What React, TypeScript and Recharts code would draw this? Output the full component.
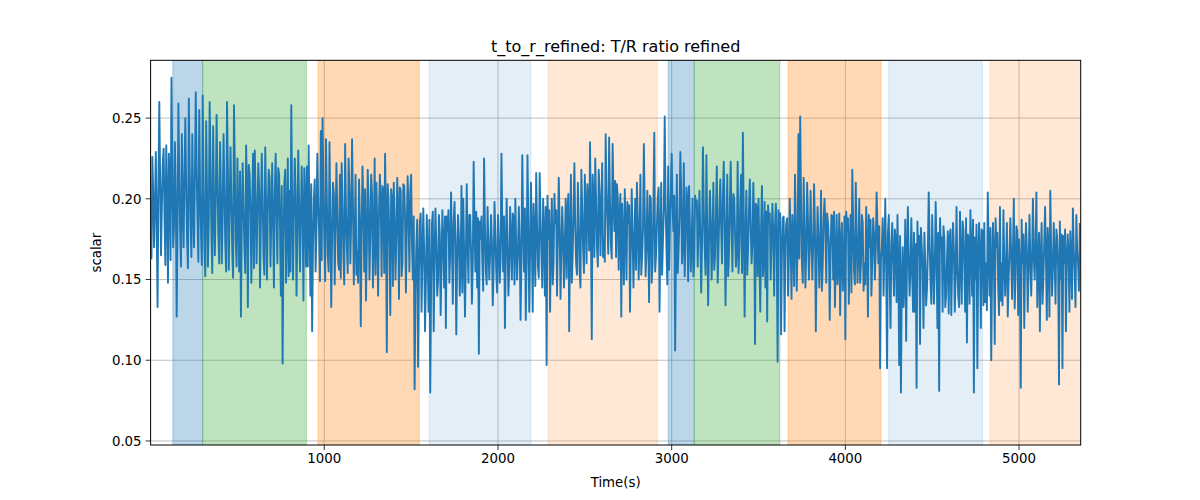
import React from "react";
import { LineChart, Line, XAxis, YAxis, CartesianGrid, ReferenceArea } from "recharts";

const STEP = 5; // seconds between samples

const ratioA = [
  0.176, 0.163, 0.226, 0.204, 0.17, 0.193, 0.229, 0.186, 0.133, 0.207, 0.26, 0.212, 0.165, 0.196, 0.222, 0.231, 0.19, 0.159, 0.233, 0.199,
  0.148, 0.228, 0.21, 0.162, 0.275, 0.224, 0.17, 0.184, 0.235, 0.203, 0.127, 0.181, 0.259, 0.213, 0.18, 0.158, 0.24, 0.198, 0.17, 0.216,
  0.25, 0.207, 0.175, 0.157, 0.262, 0.218, 0.185, 0.164, 0.24, 0.196, 0.17, 0.214, 0.266, 0.22, 0.188, 0.161, 0.255, 0.204, 0.18, 0.159,
  0.264, 0.208, 0.17, 0.152, 0.248, 0.204, 0.158, 0.187, 0.26, 0.223, 0.18, 0.154, 0.245, 0.197, 0.165, 0.199, 0.252, 0.213, 0.178, 0.16,
  0.235, 0.203, 0.16, 0.192, 0.24, 0.206, 0.172, 0.155, 0.26, 0.218, 0.156, 0.193, 0.232, 0.201, 0.168, 0.151, 0.258, 0.219, 0.175, 0.158,
  0.225, 0.187, 0.155, 0.217, 0.127, 0.183, 0.222, 0.196, 0.17, 0.154, 0.233, 0.205, 0.133, 0.221, 0.215, 0.192, 0.148, 0.194, 0.228, 0.157,
  0.23, 0.197, 0.16, 0.193, 0.222, 0.206, 0.145, 0.188, 0.228, 0.201, 0.165, 0.153, 0.232, 0.197, 0.15, 0.194, 0.218, 0.212, 0.158, 0.187,
  0.222, 0.186, 0.145, 0.203, 0.228, 0.191, 0.16, 0.219, 0.215, 0.182, 0.14, 0.208, 0.098, 0.172, 0.21, 0.218, 0.148, 0.183, 0.225, 0.152,
  0.205, 0.155, 0.258, 0.198, 0.15, 0.193, 0.225, 0.204, 0.14, 0.178, 0.23, 0.197, 0.155, 0.188, 0.22, 0.191, 0.137, 0.219, 0.2, 0.158,
];
const ratioB = [
  0.22, 0.158, 0.233, 0.187, 0.14, 0.209, 0.118, 0.172, 0.2, 0.212, 0.155, 0.183, 0.228, 0.197, 0.18, 0.149, 0.242, 0.162, 0.25, 0.204,
  0.175, 0.149, 0.237, 0.198, 0.165, 0.155, 0.235, 0.188, 0.133, 0.177, 0.21, 0.203, 0.147, 0.183, 0.222, 0.192, 0.16, 0.156, 0.215, 0.151,
  0.222, 0.196, 0.165, 0.147, 0.234, 0.192, 0.17, 0.154, 0.225, 0.204, 0.16, 0.188, 0.237, 0.197, 0.147, 0.176, 0.215, 0.153, 0.168, 0.148,
  0.212, 0.187, 0.121, 0.178, 0.22, 0.197, 0.155, 0.206, 0.137, 0.168, 0.218, 0.198, 0.15, 0.177, 0.215, 0.203, 0.145, 0.173, 0.225, 0.153,
  0.21, 0.182, 0.14, 0.193, 0.215, 0.198, 0.152, 0.208, 0.205, 0.154, 0.228, 0.187, 0.105, 0.209, 0.198, 0.172, 0.128, 0.206, 0.2, 0.146,
  0.21, 0.186, 0.15, 0.178, 0.213, 0.193, 0.138, 0.207, 0.205, 0.152, 0.16, 0.209, 0.208, 0.188, 0.142, 0.183, 0.214, 0.191, 0.155, 0.205,
  0.215, 0.172, 0.15, 0.189, 0.082, 0.142, 0.17, 0.187, 0.096, 0.153, 0.185, 0.191, 0.13, 0.163, 0.194, 0.168, 0.118, 0.148, 0.19, 0.167,
  0.13, 0.187, 0.08, 0.147, 0.185, 0.192, 0.118, 0.163, 0.194, 0.172, 0.14, 0.149, 0.19, 0.178, 0.128, 0.162, 0.193, 0.171, 0.145, 0.189,
  0.12, 0.189, 0.18, 0.193, 0.148, 0.167, 0.204, 0.171, 0.135, 0.186, 0.198, 0.174, 0.116, 0.163, 0.19, 0.177, 0.14, 0.158, 0.208, 0.142,
];
const ratioC = [
  0.2, 0.168, 0.127, 0.163, 0.209, 0.172, 0.148, 0.19, 0.19, 0.167, 0.135, 0.161, 0.223, 0.183, 0.155, 0.192, 0.145, 0.188, 0.104, 0.186,
  0.175, 0.189, 0.16, 0.143, 0.225, 0.182, 0.156, 0.147, 0.195, 0.171, 0.15, 0.168, 0.19, 0.173, 0.134, 0.157, 0.198, 0.177, 0.155, 0.142,
  0.19, 0.173, 0.148, 0.162, 0.228, 0.184, 0.155, 0.189, 0.12, 0.168, 0.2, 0.171, 0.14, 0.158, 0.195, 0.174, 0.15, 0.191, 0.188, 0.147,
  0.2, 0.169, 0.15, 0.167, 0.195, 0.173, 0.125, 0.163, 0.227, 0.182, 0.155, 0.194, 0.125, 0.162, 0.227, 0.183, 0.13, 0.168, 0.21, 0.175,
  0.13, 0.197, 0.175, 0.146, 0.216, 0.183, 0.158, 0.151, 0.216, 0.188, 0.165, 0.145, 0.2, 0.178, 0.14, 0.195, 0.097, 0.202, 0.175, 0.193,
  0.13, 0.173, 0.2, 0.147, 0.16, 0.203, 0.185, 0.193, 0.14, 0.177, 0.213, 0.184, 0.138, 0.168, 0.195, 0.175, 0.145, 0.172, 0.2, 0.151,
  0.19, 0.203, 0.118, 0.173, 0.215, 0.148, 0.165, 0.193, 0.222, 0.182, 0.16, 0.153, 0.21, 0.187, 0.155, 0.145, 0.218, 0.194, 0.17, 0.154,
  0.215, 0.193, 0.16, 0.209, 0.2, 0.168, 0.235, 0.186, 0.113, 0.215, 0.2, 0.164, 0.225, 0.198, 0.17, 0.158, 0.218, 0.203, 0.165, 0.193,
  0.222, 0.164, 0.175, 0.161, 0.24, 0.204, 0.185, 0.166, 0.238, 0.197, 0.172, 0.163, 0.234, 0.203, 0.18, 0.211, 0.164, 0.209, 0.2, 0.156,
];
const ratioD = [
  0.19, 0.203, 0.127, 0.197, 0.175, 0.147, 0.206, 0.183, 0.15, 0.198, 0.185, 0.196, 0.13, 0.172, 0.206, 0.177, 0.145, 0.173, 0.2, 0.156,
  0.21, 0.188, 0.15, 0.174, 0.215, 0.153, 0.165, 0.182, 0.234, 0.193, 0.152, 0.168, 0.205, 0.177, 0.136, 0.202, 0.2, 0.148, 0.16, 0.197,
  0.241, 0.155, 0.165, 0.184, 0.2, 0.207, 0.13, 0.172, 0.21, 0.153, 0.175, 0.193, 0.251, 0.198, 0.17, 0.147, 0.22, 0.156, 0.185, 0.204,
  0.228, 0.196, 0.18, 0.202, 0.106, 0.173, 0.215, 0.154, 0.17, 0.188, 0.229, 0.203, 0.16, 0.171, 0.222, 0.152, 0.175, 0.207, 0.2, 0.149,
  0.208, 0.183, 0.155, 0.171, 0.2, 0.152, 0.16, 0.202, 0.195, 0.199, 0.158, 0.184, 0.205, 0.177, 0.142, 0.174, 0.232, 0.193, 0.17, 0.153,
  0.227, 0.178, 0.134, 0.174, 0.205, 0.187, 0.15, 0.172, 0.21, 0.156, 0.165, 0.192, 0.22, 0.148, 0.17, 0.194, 0.212, 0.183, 0.16, 0.201,
  0.223, 0.187, 0.134, 0.173, 0.215, 0.152, 0.165, 0.197, 0.223, 0.182, 0.155, 0.203, 0.2, 0.178, 0.158, 0.168, 0.223, 0.154, 0.17, 0.198,
  0.215, 0.154, 0.241, 0.188, 0.127, 0.178, 0.205, 0.153, 0.17, 0.193, 0.212, 0.182, 0.16, 0.172, 0.21, 0.188, 0.11, 0.197, 0.195, 0.152,
  0.2, 0.168, 0.13, 0.183, 0.208, 0.152, 0.16, 0.198, 0.145, 0.192, 0.124, 0.196, 0.185, 0.191, 0.15, 0.173, 0.197, 0.178, 0.14, 0.183,
];
const ratioE = [
  0.197, 0.172, 0.099, 0.193, 0.18, 0.191, 0.116, 0.168, 0.188, 0.189, 0.118, 0.173, 0.185, 0.188, 0.14, 0.163, 0.2, 0.176, 0.138, 0.19,
  0.175, 0.146, 0.215, 0.183, 0.143, 0.172, 0.24, 0.163, 0.251, 0.197, 0.16, 0.148, 0.213, 0.182, 0.145, 0.168, 0.21, 0.186, 0.15, 0.173,
  0.205, 0.172, 0.15, 0.173, 0.209, 0.182, 0.118, 0.163, 0.195, 0.177, 0.145, 0.168, 0.205, 0.143, 0.16, 0.188, 0.2, 0.182, 0.148, 0.191,
  0.185, 0.172, 0.125, 0.168, 0.19, 0.189, 0.15, 0.192, 0.133, 0.162, 0.19, 0.147, 0.16, 0.191, 0.128, 0.173, 0.185, 0.143, 0.155, 0.189,
  0.113, 0.192, 0.18, 0.188, 0.135, 0.173, 0.19, 0.142, 0.218, 0.183, 0.155, 0.147, 0.21, 0.177, 0.148, 0.167, 0.2, 0.148, 0.16, 0.19,
  0.185, 0.143, 0.16, 0.147, 0.195, 0.172, 0.127, 0.19, 0.17, 0.187, 0.14, 0.162, 0.188, 0.178, 0.15, 0.168, 0.204, 0.182, 0.16, 0.183,
  0.095, 0.163, 0.17, 0.188, 0.14, 0.168, 0.2, 0.158, 0.095, 0.178, 0.19, 0.152, 0.12, 0.173, 0.185, 0.162, 0.14, 0.181, 0.175, 0.136,
  0.19, 0.157, 0.097, 0.177, 0.08, 0.148, 0.17, 0.133, 0.15, 0.187, 0.112, 0.163, 0.195, 0.161, 0.14, 0.158, 0.188, 0.152, 0.13, 0.179,
  0.13, 0.172, 0.083, 0.186, 0.165, 0.177, 0.11, 0.182, 0.17, 0.157, 0.12, 0.179, 0.16, 0.134, 0.145, 0.168, 0.204, 0.173, 0.15, 0.135,
];
const ratioF = [
  0.19, 0.162, 0.135, 0.158, 0.198, 0.168, 0.12, 0.179, 0.081, 0.188, 0.17, 0.176, 0.13, 0.183, 0.175, 0.133, 0.14, 0.162, 0.18, 0.129,
  0.175, 0.181, 0.128, 0.163, 0.185, 0.168, 0.13, 0.154, 0.195, 0.157, 0.14, 0.133, 0.192, 0.162, 0.135, 0.186, 0.18, 0.158, 0.13, 0.188,
  0.111, 0.178, 0.175, 0.135, 0.193, 0.168, 0.14, 0.187, 0.08, 0.176, 0.15, 0.184, 0.095, 0.163, 0.185, 0.167, 0.12, 0.181, 0.18, 0.134,
  0.185, 0.136, 0.16, 0.131, 0.204, 0.167, 0.14, 0.182, 0.1, 0.158, 0.185, 0.166, 0.11, 0.188, 0.17, 0.179, 0.145, 0.128, 0.195, 0.137,
  0.16, 0.134, 0.193, 0.163, 0.14, 0.157, 0.185, 0.127, 0.15, 0.168, 0.188, 0.162, 0.138, 0.169, 0.2, 0.132, 0.155, 0.183, 0.18, 0.128,
  0.175, 0.158, 0.083, 0.187, 0.16, 0.178, 0.12, 0.163, 0.185, 0.168, 0.13, 0.157, 0.19, 0.162, 0.14, 0.164, 0.2, 0.163, 0.15, 0.172,
  0.204, 0.133, 0.16, 0.179, 0.118, 0.163, 0.185, 0.135, 0.15, 0.173, 0.195, 0.162, 0.125, 0.182, 0.17, 0.127, 0.205, 0.168, 0.14, 0.158,
  0.185, 0.163, 0.135, 0.181, 0.175, 0.158, 0.085, 0.186, 0.15, 0.178, 0.095, 0.177, 0.16, 0.181, 0.118, 0.162, 0.178, 0.167, 0.13, 0.18,
  0.165, 0.138, 0.194, 0.169, 0.155, 0.133, 0.19, 0.167, 0.16, 0.143, 0.185,
];

const spanStarts = [128, 300, 964, 1604, 2289, 2980, 3130, 3670, 4249, 4832];
const spanEnds = [300, 897, 1547, 2190, 2918, 3130, 3623, 4205, 4790, 5355];
const spanColors = ["#1f77b4", "#2ca02c", "#ff7f0e", "#1f77b4", "#ff7f0e", "#1f77b4", "#2ca02c", "#ff7f0e", "#1f77b4", "#ff7f0e"];
const spanAlphas = [0.3, 0.3, 0.3, 0.12, 0.17, 0.3, 0.3, 0.3, 0.12, 0.17];

const xTicks = [1000, 2000, 3000, 4000, 5000];
const yTicks = [0.05, 0.1, 0.15, 0.2, 0.25];

const X_DOMAIN = [0, 5355];
const Y_DOMAIN = [0.0475, 0.2858];

const values = [...ratioA, ...ratioB, ...ratioC, ...ratioD, ...ratioE, ...ratioF];
const data = values.map((v, i) => ({ t: i * STEP, v }));

const FONT = "'DejaVu Sans', sans-serif";

const PLOT_LEFT = 150.6;
const PLOT_TOP = 60.3;
const PLOT_RIGHT = 1080.7;
const PLOT_BOTTOM = 445;

export default function App() {
  return (
    <div style={{ position: "absolute", left: 0, top: 0, width: 1200, height: 500, background: "#fff" }}>
      <LineChart
        width={1200}
        height={500}
        data={data}
        margin={{ top: PLOT_TOP, right: 1200 - PLOT_RIGHT, bottom: 500 - PLOT_BOTTOM - 30, left: PLOT_LEFT - 60 }}
      >
        {spanStarts.map((s, i) => (
          <ReferenceArea
            key={"span" + i}
            x1={s}
            x2={spanEnds[i]}
            fill={spanColors[i]}
            fillOpacity={spanAlphas[i]}
            stroke={spanColors[i]}
            strokeOpacity={spanAlphas[i]}
            strokeWidth={1}
            ifOverflow="hidden"
          />
        ))}
        <CartesianGrid stroke="#b0b0b0" strokeWidth={0.8} horizontalValues={yTicks} verticalValues={xTicks} />
        <XAxis
          type="number"
          dataKey="t"
          domain={X_DOMAIN}
          ticks={xTicks}
          allowDataOverflow
          height={30}
          axisLine={false}
          tickLine={{ stroke: "#000", strokeWidth: 0.8 }}
          tickSize={5}
          tickMargin={4}
          tick={{ fill: "#000", fontSize: 13.33, fontFamily: FONT }}
          interval={0}
        />
        <YAxis
          type="number"
          domain={Y_DOMAIN}
          ticks={yTicks}
          allowDataOverflow
          width={60}
          axisLine={false}
          tickLine={{ stroke: "#000", strokeWidth: 0.8 }}
          tickSize={5}
          tickMargin={4}
          tick={{ fill: "#000", fontSize: 13.33, fontFamily: FONT }}
          tickFormatter={(v: number) => v.toFixed(2)}
          interval={0}
        />
        <Line
          type="linear"
          dataKey="v"
          stroke="#1f77b4"
          strokeWidth={1.9}
          strokeLinejoin="round"
          dot={false}
          activeDot={false}
          isAnimationActive={false}
        />
      </LineChart>
      <svg
        width={1200}
        height={500}
        style={{ position: "absolute", left: 0, top: 0, pointerEvents: "none" }}
      >
        <rect
          x={PLOT_LEFT}
          y={PLOT_TOP}
          width={PLOT_RIGHT - PLOT_LEFT}
          height={PLOT_BOTTOM - PLOT_TOP}
          fill="none"
          stroke="#000"
          strokeWidth={1}
        />
        <text x={(PLOT_LEFT + PLOT_RIGHT) / 2} y={52} textAnchor="middle" fontFamily={FONT} fontSize={16} fill="#000">
          t_to_r_refined: T/R ratio refined
        </text>
        <text x={(PLOT_LEFT + PLOT_RIGHT) / 2} y={487} textAnchor="middle" fontFamily={FONT} fontSize={13.33} fill="#000">
          Time(s)
        </text>
        <text
          x={101}
          y={(PLOT_TOP + PLOT_BOTTOM) / 2}
          textAnchor="middle"
          fontFamily={FONT}
          fontSize={13.33}
          fill="#000"
          transform={`rotate(-90 101 ${(PLOT_TOP + PLOT_BOTTOM) / 2})`}
        >
          scalar
        </text>
      </svg>
    </div>
  );
}
